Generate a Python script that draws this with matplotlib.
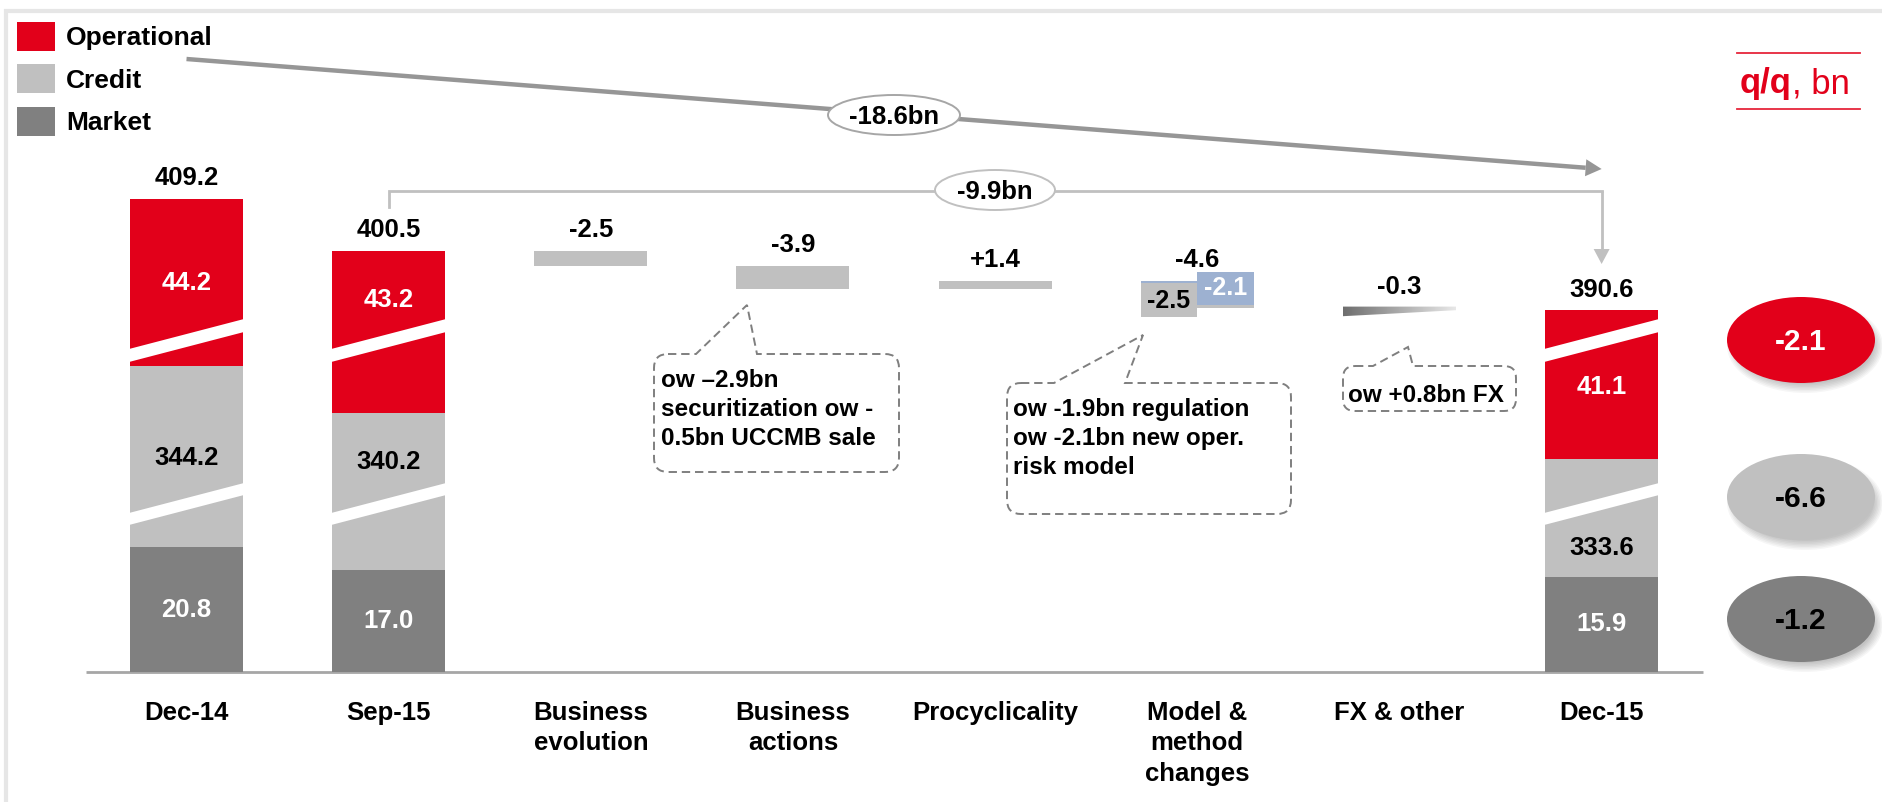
import numpy as np
import matplotlib
matplotlib.use('Agg')
import matplotlib.pyplot as plt
from matplotlib.patches import Rectangle, Ellipse, Polygon, PathPatch
from matplotlib.path import Path
from matplotlib.colors import LinearSegmentedColormap

plt.rcParams['font.family'] = ['Liberation Sans', 'DejaVu Sans']
plt.rcParams['lines.scale_dashes'] = False

# ---------------- data ----------------
categories = ['Dec-14', 'Sep-15', 'Business\nevolution', 'Business\nactions',
              'Procyclicality', 'Model &\nmethod\nchanges', 'FX & other', 'Dec-15']
stack_idx = [0, 1, 7]
market = [20.8, 17.0, 15.9]
credit = [344.2, 340.2, 333.6]
operational = [44.2, 43.2, 41.1]
totals = [409.2, 400.5, 390.6]
steps = [-2.5, -3.9, 1.4, -4.6, -0.3]
model_split = [-2.5, -2.1]
qq_change = [-2.1, -6.6, -1.2]          # operational, credit, market
legend_names = ['Operational', 'Credit', 'Market']
notes = ['ow \u20132.9bn\nsecuritization ow -\n0.5bn UCCMB sale',
         'ow -1.9bn regulation\now -2.1bn new oper.\nrisk model',
         'ow +0.8bn FX']

# axis breaks (amount cut out of the credit and operational segments)
CREDIT_CUT = 314.0
OPER_CUT = 16.3
BASE_CUT = CREDIT_CUT + OPER_CUT

# ---------------- style / layout ----------------
RED = '#e2001a'
LIGHT = '#c0c0c0'
DARK = '#808080'
BLUE = '#9db1d1'
W, H = 1883, 802
X0, DX = 186.5, 202.16      # pixel x of first category, spacing
Y0, PPU = 672.0, 6.0        # pixel y of baseline, pixels per unit
BW = 113 / DX

def px2x(px):
    return (px - X0) / DX

def py2y(py):
    return (Y0 - py) / PPU

def cat_px(i):
    return X0 + DX * i

fig = plt.figure(figsize=(W / 100, H / 100), dpi=100)
ax = fig.add_axes([0, 0, 1, 1])
ax.axis('off')

market = np.array(market)
credit_d = np.array(credit) - CREDIT_CUT
oper_d = np.array(operational) - OPER_CUT

ax.bar(stack_idx, market, width=BW, color=DARK, lw=0, zorder=2)
ax.bar(stack_idx, credit_d, bottom=market, width=BW, color=LIGHT, lw=0, zorder=2)
ax.bar(stack_idx, oper_d, bottom=market + credit_d, width=BW, color=RED, lw=0, zorder=2)

# break marks
red_band = (py2y(362), py2y(332), py2y(319), py2y(349))
cred_band = (py2y(525), py2y(495), py2y(483), py2y(513))
for i in stack_idx:
    xl, xr = i - BW / 2 - 0.005, i + BW / 2 + 0.005
    for b in (red_band, cred_band):
        ax.add_patch(Polygon([(xl, b[0]), (xr, b[1]), (xr, b[2]), (xl, b[3])],
                             closed=True, fc='white', ec='none', zorder=3))

# labels inside stacked bars
op_label_y = [py2y(283), py2y(300), py2y(387)]
cr_label_y = [py2y(458), py2y(462), py2y(548)]
for k, i in enumerate(stack_idx):
    ax.text(i, op_label_y[k], f'{operational[k]:.1f}', ha='center', va='center',
            color='white', fontsize=18.5, weight='bold', zorder=5)
    ax.text(i, cr_label_y[k], f'{credit[k]:.1f}', ha='center', va='center',
            color='black', fontsize=18.5, weight='bold', zorder=5)
    ax.text(i, market[k] / 2, f'{market[k]:.1f}', ha='center', va='center',
            color='white', fontsize=18.5, weight='bold', zorder=5)
    ax.text(i, totals[k] - BASE_CUT + 3.4, f'{totals[k]:.1f}', ha='center', va='center',
            color='black', fontsize=18.5, weight='bold', zorder=5)

# waterfall steps
levels = [totals[1]]
for s in steps:
    levels.append(round(levels[-1] + s, 2))
for j, s in enumerate(steps):
    x = 2 + j
    prev, nxt = levels[j] - BASE_CUT, levels[j + 1] - BASE_CUT
    top = max(prev, nxt)
    if j <= 2:
        ax.bar(x, abs(s), bottom=min(prev, nxt), width=BW, color=LIGHT, lw=0, zorder=2)
    elif j == 3:
        a, b = model_split
        ax.bar(x - BW / 4, abs(a), bottom=prev + a, width=BW / 2, color=BLUE, lw=0, zorder=2)
        ax.bar(x + BW / 4, abs(b), bottom=nxt, width=BW / 2, color=LIGHT, lw=0, zorder=2)
        ax.add_patch(Rectangle((x - BW / 2, prev - 6.0), BW / 2, 5.6,
                               fc=LIGHT, ec='none', zorder=4))
        ax.add_patch(Rectangle((x, nxt + 0.5), BW / 2, 5.6,
                               fc=BLUE, ec='none', zorder=4))
        ax.text(x - BW / 4, prev - 3.3, f'{a:.1f}', ha='center', va='center',
                color='black', fontsize=18, weight='bold', zorder=5)
        ax.text(x + BW / 4, nxt + 3.4, f'{b:.1f}', ha='center', va='center',
                color='white', fontsize=18, weight='bold', zorder=5)
    else:
        xl, xr = x - BW / 2, x + BW / 2
        poly = Polygon([(xl, prev + 0.3), (xr, prev + 0.3), (xr, nxt), (xl, nxt - 1.0)],
                       closed=True, fc='none', ec='none', transform=ax.transData)
        ax.add_patch(poly)
        cmap = LinearSegmentedColormap.from_list('wedge', ['#6e6e6e', '#e8e8e8'])
        grad = np.linspace(0, 1, 256).reshape(1, -1)
        im = ax.imshow(grad, extent=[xl, xr, nxt - 1.2, prev + 0.5], aspect='auto',
                       cmap=cmap, zorder=2, interpolation='bilinear')
        im.set_clip_path(poly)
    label = f'{s:+.1f}' if s > 0 else f'{s:.1f}'
    ax.text(x, top + 3.5, label, ha='center', va='center', color='black',
            fontsize=18.5, weight='bold', zorder=5)

# category labels
for i, c in enumerate(categories):
    ax.text(i, py2y(701), c, ha='center', va='top', fontsize=18.5, weight='bold',
            color='black', linespacing=1.34)

# baseline
ax.plot([px2x(86), px2x(1703)], [0, 0], color='#a6a6a6', lw=2, solid_capstyle='butt', zorder=1)

ax.set_xlim(-X0 / DX, (W - X0) / DX)
ax.set_ylim((Y0 - H) / PPU, Y0 / PPU)

# ---------------- overlay in pixel coordinates ----------------
ov = fig.add_axes([0, 0, 1, 1])
ov.set_xlim(0, W)
ov.set_ylim(H, 0)
ov.axis('off')
ov.set_facecolor('none')

# frame
ov.plot([4, W], [10.5, 10.5], color='#e6e6e6', lw=3, solid_capstyle='butt')
ov.plot([6, 6], [9, H], color='#e6e6e6', lw=3, solid_capstyle='butt')

# legend
leg_colors = [RED, LIGHT, DARK]
leg_y = [36.5, 78.5, 121.5]
for name, col, yy in zip(legend_names, leg_colors, leg_y):
    ov.add_patch(Rectangle((17, yy - 14.5), 38, 29, fc=col, ec='none'))
    ov.text(66, yy + 2, name, ha='left', va='center', fontsize=19, weight='bold')

def arrow(p0, p1, lw, color, hl, hw, z=3):
    p0 = np.array(p0, float)
    p1 = np.array(p1, float)
    u = (p1 - p0) / np.hypot(*(p1 - p0))
    n = np.array([-u[1], u[0]])
    base = p1 - u * hl
    ov.plot([p0[0], base[0]], [p0[1], base[1]], color=color, lw=lw,
            solid_capstyle='butt', zorder=z)
    ov.add_patch(Polygon([p1, base + n * hw / 2, base - n * hw / 2], closed=True,
                         fc=color, ec='none', zorder=z))

# -18.6bn long arrow (Dec-14 -> Dec-15)
arrow((cat_px(0), 59), (cat_px(7), 169), lw=3.2, color='#969696', hl=16, hw=17)
ov.add_patch(Ellipse((894, 115), 132, 40, fc='white', ec='#a6a6a6', lw=1.4, zorder=4))
ov.text(894, 117, f'{totals[2] - totals[0]:.1f}bn', ha='center', va='center',
        fontsize=18.5, weight='bold', zorder=5)

# -9.9bn bracket (Sep-15 -> Dec-15)
ov.plot([cat_px(1), cat_px(1), cat_px(7)], [207, 191, 191], color='#c0c0c0', lw=2,
        solid_joinstyle='miter', zorder=3)
arrow((cat_px(7), 191), (cat_px(7), 264), lw=2, color='#c0c0c0', hl=15, hw=16)
ov.add_patch(Ellipse((995, 190), 120, 40, fc='white', ec='#c0c0c0', lw=1.4, zorder=4))
ov.text(995, 192, f'{totals[2] - totals[1]:.1f}bn', ha='center', va='center',
        fontsize=18.5, weight='bold', zorder=5)

# q/q, bn
ov.plot([1737, 1860], [53, 53], color=RED, lw=1.3, alpha=0.85)
ov.plot([1737, 1860], [109, 109], color=RED, lw=1.3, alpha=0.85)
t1 = ov.text(1740, 84, 'q/q', ha='left', va='center', fontsize=25, weight='bold', color=RED)
r = fig.canvas.get_renderer()
bb = t1.get_window_extent(r)
xend = ov.transData.inverted().transform((bb.x1, bb.y0))[0]
ov.text(xend, 84, ', bn', ha='left', va='center', fontsize=25, color=RED)

# right-hand q/q change ellipses with soft shadow
ell_y = [340, 497, 619]
ell_cols = [RED, LIGHT, DARK]
ell_txt = ['white', 'black', 'black']
for v, yy, col, tc in zip(qq_change, ell_y, ell_cols, ell_txt):
    for k in range(7):
        ov.add_patch(Ellipse((1805, yy + 6), 150 - 3 * k + 6, 88 - 3 * k + 6,
                             fc='black', ec='none', alpha=0.035, zorder=2))
    ov.add_patch(Ellipse((1801, yy), 148, 86, fc=col, ec='none', zorder=3))
    ov.text(1801, yy + 2, f'{v:.1f}', ha='center', va='center', fontsize=21.5,
            weight='bold', color=tc, zorder=4)

# dashed callouts
def callout(L, T, R, B, b1, tip, b2, rad=14):
    verts = [(L + rad, T), (b1, T), tip, (b2, T), (R - rad, T),
             (R, T), (R, T + rad), (R, B - rad),
             (R, B), (R - rad, B), (L + rad, B),
             (L, B), (L, B - rad), (L, T + rad),
             (L, T), (L + rad, T)]
    codes = [Path.MOVETO, Path.LINETO, Path.LINETO, Path.LINETO, Path.LINETO,
             Path.CURVE3, Path.CURVE3, Path.LINETO,
             Path.CURVE3, Path.CURVE3, Path.LINETO,
             Path.CURVE3, Path.CURVE3, Path.LINETO,
             Path.CURVE3, Path.CURVE3]
    ov.add_patch(PathPatch(Path(verts, codes), fill=False, ec='#7f7f7f', lw=1.4,
                           ls=(0, (6, 3.5)), zorder=3))

callout(654, 354, 899, 472, 696, (747, 305), 757)
ov.text(661, 369, notes[0], ha='left', va='top', fontsize=17.5, weight='bold',
        linespacing=1.33)
callout(1007, 383, 1291, 514, 1054, (1143, 335), 1125)
ov.text(1013, 398, notes[1], ha='left', va='top', fontsize=17.5, weight='bold',
        linespacing=1.33)
callout(1343, 366, 1516, 411, 1373, (1408, 347), 1413, rad=12)
ov.text(1348, 395, notes[2], ha='left', va='center', fontsize=17.5, weight='bold')

fig.savefig('out.png', dpi=100)
